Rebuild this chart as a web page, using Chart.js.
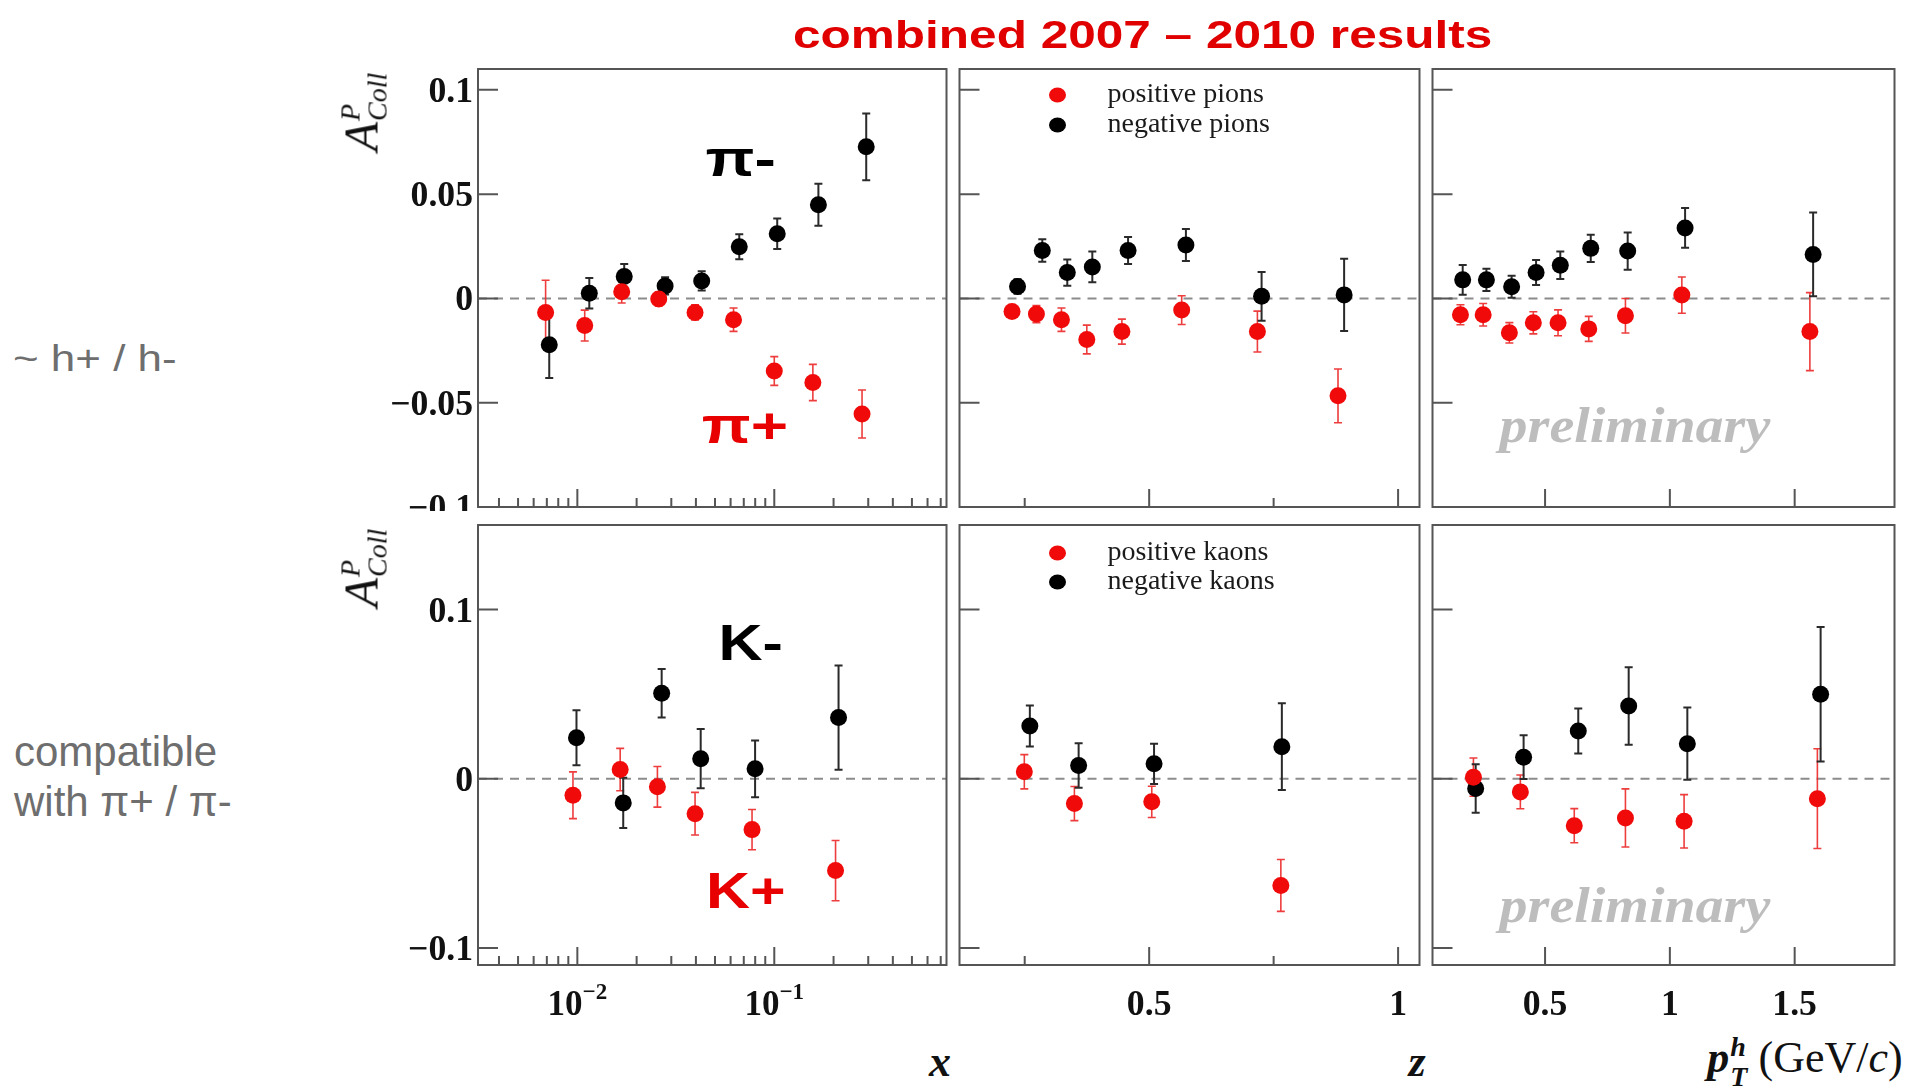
<!DOCTYPE html>
<html>
<head>
<meta charset="utf-8">
<title>Collins asymmetry, combined 2007 - 2010</title>
<script src="https://cdn.jsdelivr.net/npm/chart.js@4.4.1/dist/chart.umd.min.js"></script>
<style>
  html, body { margin: 0; padding: 0; background: #fff; }
  body { width: 1907px; height: 1089px; position: relative; overflow: hidden; }
  canvas { position: absolute; z-index: 1; }
  canvas.low { background: #fff; }
  .txt { position: absolute; z-index: 2; white-space: nowrap; transform-origin: 0 0; }
  #title { left: 793px; top: 15px; font: bold 39px "Liberation Sans", Arial, sans-serif; color: #e00000; line-height: 39px; transform: scaleX(1.27); }
  #noteHadrons { left: 13px; top: 341px; font: 36px "Liberation Sans", Arial, sans-serif; color: #6e6e6e; line-height: 36px; transform: scaleX(1.22); }
  #noteCompat { left: 14px; top: 727px; font: 42px "Liberation Sans", Arial, sans-serif; color: #6e6e6e; line-height: 50px; }
  .ylab { font-family: "Liberation Serif", serif; font-style: italic; color: #111; line-height: 46px; transform-origin: 50% 50%; transform: translate(-50%, -50%) rotate(-90deg); }
  .ylab .big { font-size: 48px; }
  .scr { display: inline-flex; flex-direction: column; font-size: 28px; line-height: 27px; vertical-align: 18px; margin-left: 1px; }
  .axt { font: 44px "Liberation Serif", serif; color: #111; line-height: 44px; transform: translate(-50%, -50%); }
  .axt i { font-weight: bold; }
  .axt .scr { font-size: 28px; line-height: 30px; vertical-align: 16px; }
</style>
</head>
<body>

<div id="title" class="txt">combined 2007 – 2010 results</div>
<div id="noteHadrons" class="txt">~ h+ / h-</div>
<div id="noteCompat" class="txt">compatible<br>with π+ / π-</div>

<div class="txt ylab" style="left:366px; top:112px"><span class="big">A</span><span class="scr"><span>P</span><span>Coll</span></span></div>
<div class="txt ylab" style="left:366px; top:568px"><span class="big">A</span><span class="scr"><span>P</span><span>Coll</span></span></div>

<div class="txt axt" style="left:940px; top:1062px"><i>x</i></div>
<div class="txt axt" style="left:1417px; top:1062px"><i>z</i></div>
<div class="txt axt" style="left:1805px; top:1062px"><i>p</i><span class="scr"><i>h</i><i>T</i></span> (GeV/<i style="font-weight:normal">c</i>)</div>

<script>
// ---- pions vs x ----
const pionXPos = [0.0069, 0.0109, 0.0168, 0.0259, 0.0396, 0.0621, 0.100, 0.157, 0.279];
const pionXPosA = [-0.0067, -0.0130, 0.0032, -0.0003, -0.0067, -0.0102, -0.0348, -0.0403, -0.0554];
const pionXPosErr = [0.0154, 0.0074, 0.0054, 0.0033, 0.0036, 0.0056, 0.0069, 0.0087, 0.0115];
const pionXNeg = [0.0072, 0.0115, 0.0173, 0.0279, 0.0428, 0.0664, 0.1035, 0.1675, 0.293];
const pionXNegA = [-0.0222, 0.0025, 0.0105, 0.0060, 0.0084, 0.0248, 0.0310, 0.0449, 0.0727];
const pionXNegErr = [0.0159, 0.0073, 0.0060, 0.0041, 0.0046, 0.0060, 0.0073, 0.0101, 0.0160];

// ---- pions vs z ----
const pionZPos = [0.2245, 0.2735, 0.3238, 0.3747, 0.4452, 0.5653, 0.7174, 0.8793];
const pionZPosA = [-0.0063, -0.0075, -0.0102, -0.0197, -0.0159, -0.0056, -0.0159, -0.0467];
const pionZPosErr = [0.0030, 0.0041, 0.0056, 0.0069, 0.0060, 0.0069, 0.0098, 0.0129];
const pionZNeg = [0.2356, 0.2853, 0.3355, 0.3858, 0.4576, 0.5738, 0.7258, 0.8916];
const pionZNegA = [0.0057, 0.0230, 0.0124, 0.0151, 0.0230, 0.0256, 0.0010, 0.0017];
const pionZNegErr = [0.0035, 0.0054, 0.0063, 0.0074, 0.0065, 0.0077, 0.0117, 0.0173];

// ---- pions vs pT ----
const pionPtPos = [0.161, 0.252, 0.357, 0.453, 0.552, 0.675, 0.822, 1.048, 1.561];
const pionPtPosA = [-0.0078, -0.0078, -0.0165, -0.0117, -0.0117, -0.0146, -0.0083, 0.0016, -0.0159];
const pionPtPosErr = [0.0048, 0.0054, 0.0049, 0.0053, 0.0062, 0.0060, 0.0083, 0.0087, 0.0187];
const pionPtNeg = [0.170, 0.265, 0.366, 0.464, 0.561, 0.683, 0.831, 1.061, 1.574];
const pionPtNegA = [0.0089, 0.0089, 0.0056, 0.0124, 0.0159, 0.0240, 0.0227, 0.0338, 0.0211];
const pionPtNegErr = [0.0071, 0.0053, 0.0053, 0.0060, 0.0066, 0.0065, 0.0089, 0.0095, 0.0201];

// ---- kaons vs x ----
const kaonXPos = [0.0095, 0.0165, 0.0255, 0.0396, 0.0771, 0.2047];
const kaonXPosA = [-0.0097, 0.0055, -0.0047, -0.0206, -0.0300, -0.0542];
const kaonXPosErr = [0.0138, 0.0125, 0.0120, 0.0126, 0.0119, 0.0178];
const kaonXNeg = [0.0099, 0.0171, 0.0268, 0.0423, 0.0799, 0.212];
const kaonXNegA = [0.0243, -0.0142, 0.0506, 0.0119, 0.0059, 0.0362];
const kaonXNegErr = [0.0163, 0.0148, 0.0143, 0.0175, 0.0168, 0.0308];

// ---- kaons vs z ----
const kaonZPos = [0.2492, 0.3498, 0.5052, 0.7645];
const kaonZPosA = [0.0042, -0.0146, -0.0136, -0.0630];
const kaonZPosErr = [0.0101, 0.0101, 0.0092, 0.0153];
const kaonZNeg = [0.2603, 0.3583, 0.5098, 0.7665];
const kaonZNegA = [0.0312, 0.0079, 0.0089, 0.0190];
const kaonZNegErr = [0.0121, 0.0131, 0.0119, 0.0256];

// ---- kaons vs pT ----
const kaonPtPos = [0.213, 0.401, 0.617, 0.822, 1.057, 1.591];
const kaonPtPosA = [0.0010, -0.0077, -0.0277, -0.0231, -0.0251, -0.0117];
const kaonPtPosErr = [0.0113, 0.0100, 0.0101, 0.0172, 0.0158, 0.0295];
const kaonPtNeg = [0.222, 0.414, 0.633, 0.835, 1.070, 1.604];
const kaonPtNegA = [-0.0057, 0.0128, 0.0283, 0.0431, 0.0208, 0.0500];
const kaonPtNegErr = [0.0143, 0.0129, 0.0133, 0.0229, 0.0214, 0.0397];

// ---- axis ticks and labels ----
const yTicksPion = [-0.1, -0.05, 0, 0.05, 0.1];
const yLabelsPion = ['−0.1', '−0.05', '0', '0.05', '0.1'];
const yTicksKaon = [-0.1, 0, 0.1];
const yLabelsKaon = ['−0.1', '0', '0.1'];
const xMajorTicks = [0.01, 0.1];
const xMinorTicks = [0.004, 0.005, 0.006, 0.007, 0.008, 0.009, 0.02, 0.03, 0.04, 0.05, 0.06, 0.07, 0.08, 0.09, 0.2, 0.3, 0.4, 0.5, 0.6, 0.7];
const xTickLabels = ['10^−2', '10^−1'];
const zMajorTicks = [0.5, 1];
const zMinorTicks = [0.25, 0.75];
const zTickLabels = ['0.5', '1'];
const ptMajorTicks = [0.5, 1, 1.5];
const ptTickLabels = ['0.5', '1', '1.5'];

const RED = 'rgb(240, 10, 10)';
const BLACK = '#000';
const TICK_FONT = 'bold 35px "Liberation Serif"';
const EXP_FONT = 'bold 23px "Liberation Serif"';

const pts = (xs, ys, es) => xs.map((v, i) => ({ x: v, y: ys[i], err: es[i] }));

function stretchText(ctx, text, x, y, sx, align) {
  ctx.save();
  ctx.translate(x, y);
  ctx.scale(sx, 1);
  ctx.textAlign = align;
  ctx.fillText(text, 0, 0);
  ctx.restore();
}

// frame, inward ticks, labels, zero line, error bars, legend, annotations
const panelPlugin = {
  id: 'panel',
  beforeDatasetsDraw(chart, args, o) {
    const { ctx, chartArea: a } = chart;
    const xs = chart.scales.x, ys = chart.scales.y;
    ctx.save();
    ctx.strokeStyle = '#8c8c8c';
    ctx.lineWidth = 2;
    ctx.setLineDash([9, 7]);
    const y0 = ys.getPixelForValue(0);
    ctx.beginPath();
    ctx.moveTo(a.left, y0);
    ctx.lineTo(a.right, y0);
    ctx.stroke();
    ctx.setLineDash([]);

    chart.data.datasets.forEach(ds => {
      ctx.strokeStyle = ds.errorColor;
      ctx.lineWidth = ds.errorWidth;
      ctx.beginPath();
      ds.data.forEach(p => {
        const px = xs.getPixelForValue(p.x);
        const t = ys.getPixelForValue(p.y + p.err);
        const b = ys.getPixelForValue(p.y - p.err);
        ctx.moveTo(px, t); ctx.lineTo(px, b);
        ctx.moveTo(px - 4, t); ctx.lineTo(px + 4, t);
        ctx.moveTo(px - 4, b); ctx.lineTo(px + 4, b);
      });
      ctx.stroke();
    });
    ctx.restore();
  },
  afterDraw(chart, args, o) {
    const { ctx, chartArea: a } = chart;
    const xs = chart.scales.x, ys = chart.scales.y;
    ctx.save();

    ctx.strokeStyle = '#555';
    ctx.lineWidth = 2;
    ctx.strokeRect(a.left, a.top, a.right - a.left, a.bottom - a.top);

    ctx.beginPath();
    o.yTicks.forEach(v => {
      const py = ys.getPixelForValue(v);
      ctx.moveTo(a.left, py); ctx.lineTo(a.left + 20, py);
    });
    o.xMajor.forEach(v => {
      const px = xs.getPixelForValue(v);
      ctx.moveTo(px, a.bottom); ctx.lineTo(px, a.bottom - 18);
    });
    o.xMinor.forEach(v => {
      const px = xs.getPixelForValue(v);
      ctx.moveTo(px, a.bottom); ctx.lineTo(px, a.bottom - 9);
    });
    ctx.stroke();

    ctx.fillStyle = '#111';
    ctx.textBaseline = 'alphabetic';
    if (o.yLabels) {
      ctx.font = TICK_FONT;
      o.yTicks.forEach((v, i) => {
        stretchText(ctx, o.yLabels[i], a.left - 5, ys.getPixelForValue(v) + 12, 1.02, 'right');
      });
    }
    if (o.xLabels) {
      const base = a.bottom + 50;
      o.xMajor.forEach((v, i) => {
        const px = xs.getPixelForValue(v);
        const parts = o.xLabels[i].split('^');
        if (parts.length === 2) {
          ctx.font = TICK_FONT;
          const w1 = ctx.measureText(parts[0]).width;
          ctx.font = EXP_FONT;
          const w2 = ctx.measureText(parts[1]).width;
          const x0 = px - (w1 + w2) / 2;
          ctx.font = TICK_FONT;
          stretchText(ctx, parts[0], x0, base, 1, 'left');
          ctx.font = EXP_FONT;
          stretchText(ctx, parts[1], x0 + w1, base - 16, 1, 'left');
        } else {
          ctx.font = TICK_FONT;
          stretchText(ctx, parts[0], px, base, 1.02, 'center');
        }
      });
    }

    (o.notes || []).forEach(n => {
      ctx.fillStyle = n.color;
      ctx.font = n.font;
      ctx.textBaseline = 'middle';
      stretchText(ctx, n.text, xs.getPixelForValue(n.x), ys.getPixelForValue(n.y), n.sx, 'center');
    });

    if (o.legend) {
      ctx.textBaseline = 'middle';
      ctx.font = '28px "Liberation Serif"';
      chart.data.datasets.forEach((ds, i) => {
        const ly = a.top + o.legend.y + i * o.legend.dy;
        ctx.fillStyle = ds.backgroundColor;
        ctx.beginPath();
        ctx.ellipse(a.left + o.legend.x, ly, 8.5, 7.5, 0, 0, Math.PI * 2);
        ctx.fill();
        ctx.fillStyle = '#1a1a1a';
        stretchText(ctx, ds.label, a.left + o.legend.x + 50, ly, 1, 'left');
      });
    }
    ctx.restore();
  }
};

const COLS = [478, 953, 1426, 1901];
const ROWS = [[69, 507], [525, 965]];

function makePanel(row, col, xScale, yScale, datasets, panelOpts) {
  const pad = {
    left: col === 0 ? 130 : 2,
    right: 2,
    top: row === 0 ? 30 : 14,
    bottom: row === 0 ? 16 : 60
  };
  const w = COLS[col + 1] - COLS[col] + pad.left + pad.right;
  const h = ROWS[row][1] - ROWS[row][0] + pad.top + pad.bottom;
  const cv = document.createElement('canvas');
  cv.width = w; cv.height = h;
  cv.style.width = w + 'px'; cv.style.height = h + 'px';
  cv.style.left = (COLS[col] - pad.left) + 'px';
  cv.style.top = (ROWS[row][0] - pad.top) + 'px';
  if (row === 1) cv.className = 'low';
  document.body.appendChild(cv);

  return new Chart(cv.getContext('2d'), {
    type: 'scatter',
    data: { datasets },
    options: {
      responsive: false,
      animation: false,
      devicePixelRatio: 1,
      events: [],
      layout: { padding: pad },
      plugins: { legend: { display: false }, tooltip: { enabled: false }, panel: panelOpts },
      scales: {
        x: Object.assign({ display: false }, xScale),
        y: Object.assign({ display: false, type: 'linear' }, yScale)
      }
    },
    plugins: [panelPlugin]
  });
}

function series(label, xs, ys, es, positive) {
  return {
    label,
    data: pts(xs, ys, es),
    backgroundColor: positive ? RED : BLACK,
    pointRadius: 8.5,
    pointHoverRadius: 8.5,
    pointBorderWidth: 0,
    errorColor: positive ? 'rgba(235, 40, 40, 0.9)' : '#2a2a2a',
    errorWidth: positive ? 1.6 : 2
  };
}

const xLog = { type: 'logarithmic', min: 0.00313, max: 0.749 };
const zLin = { type: 'linear', min: 0.119, max: 1.043 };
const ptLin = { type: 'linear', min: 0.049, max: 1.9 };
const yPion = { min: -0.1, max: 0.11 };
const yKaon = { min: -0.11, max: 0.15 };

const BIG = 'bold 50px "Liberation Sans"';
const PRELIM = 'bold italic 50px "Liberation Serif"';

// top row: pions
makePanel(0, 0, xLog, yPion, [
  series('positive pions', pionXPos, pionXPosA, pionXPosErr, true),
  series('negative pions', pionXNeg, pionXNegA, pionXNegErr, false)
], {
  yTicks: yTicksPion, yLabels: yLabelsPion, xMajor: xMajorTicks, xMinor: xMinorTicks, xLabels: null,
  notes: [
    { text: 'π-', x: 0.0675, y: 0.0655, color: '#000', font: BIG, sx: 1.28 },
    { text: 'π+', x: 0.071, y: -0.0625, color: '#e80000', font: BIG, sx: 1.28 }
  ]
});
makePanel(0, 1, zLin, yPion, [
  series('positive pions', pionZPos, pionZPosA, pionZPosErr, true),
  series('negative pions', pionZNeg, pionZNegA, pionZNegErr, false)
], {
  yTicks: yTicksPion, yLabels: null, xMajor: zMajorTicks, xMinor: zMinorTicks, xLabels: null,
  legend: { x: 98, y: 26, dy: 30 }
});
makePanel(0, 2, ptLin, yPion, [
  series('positive pions', pionPtPos, pionPtPosA, pionPtPosErr, true),
  series('negative pions', pionPtNeg, pionPtNegA, pionPtNegErr, false)
], {
  yTicks: yTicksPion, yLabels: null, xMajor: ptMajorTicks, xMinor: [], xLabels: null,
  notes: [{ text: 'preliminary', x: 0.86, y: -0.0625, color: '#bdbdbd', font: PRELIM, sx: 1.12 }]
});

// bottom row: kaons
makePanel(1, 0, xLog, yKaon, [
  series('positive kaons', kaonXPos, kaonXPosA, kaonXPosErr, true),
  series('negative kaons', kaonXNeg, kaonXNegA, kaonXNegErr, false)
], {
  yTicks: yTicksKaon, yLabels: yLabelsKaon, xMajor: xMajorTicks, xMinor: xMinorTicks, xLabels: xTickLabels,
  notes: [
    { text: 'K-', x: 0.0759, y: 0.0785, color: '#000', font: BIG, sx: 1.22 },
    { text: 'K+', x: 0.0717, y: -0.0680, color: '#e80000', font: BIG, sx: 1.22 }
  ]
});
makePanel(1, 1, zLin, yKaon, [
  series('positive kaons', kaonZPos, kaonZPosA, kaonZPosErr, true),
  series('negative kaons', kaonZNeg, kaonZNegA, kaonZNegErr, false)
], {
  yTicks: yTicksKaon, yLabels: null, xMajor: zMajorTicks, xMinor: zMinorTicks, xLabels: zTickLabels,
  legend: { x: 98, y: 28, dy: 29 }
});
makePanel(1, 2, ptLin, yKaon, [
  series('positive kaons', kaonPtPos, kaonPtPosA, kaonPtPosErr, true),
  series('negative kaons', kaonPtNeg, kaonPtNegA, kaonPtNegErr, false)
], {
  yTicks: yTicksKaon, yLabels: null, xMajor: ptMajorTicks, xMinor: [], xLabels: ptTickLabels,
  notes: [{ text: 'preliminary', x: 0.86, y: -0.0768, color: '#bdbdbd', font: PRELIM, sx: 1.12 }]
});
</script>
</body>
</html>
